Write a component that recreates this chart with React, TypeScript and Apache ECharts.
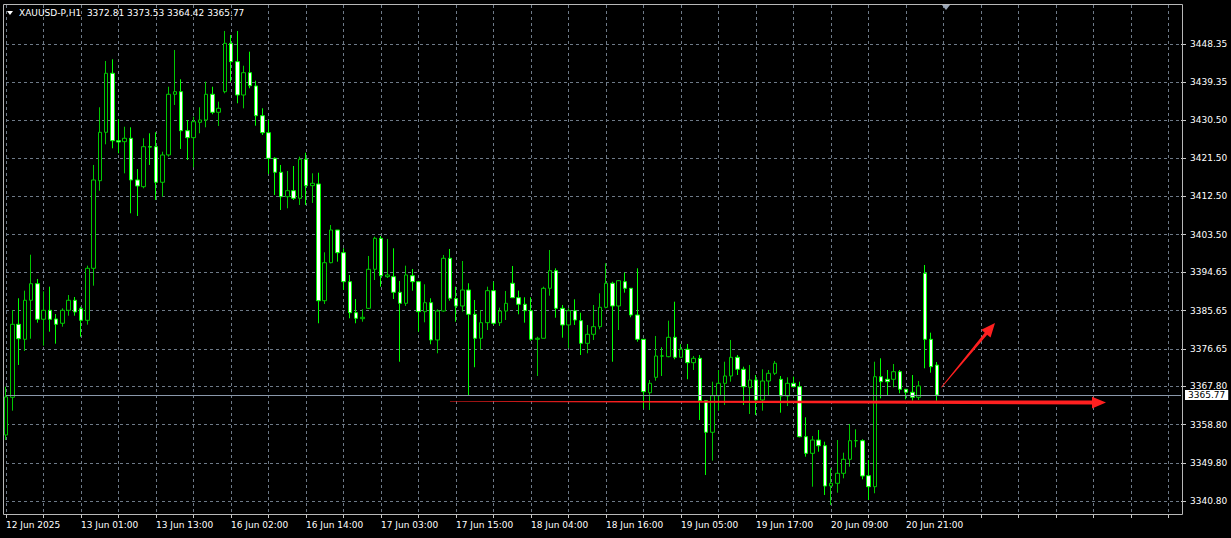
import React, { useEffect, useRef } from 'react';
import * as echarts from 'echarts';

const SYMBOL = 'XAUUSD-P,H1';

const openPrices = [
  3356.37, 3365.24, 3382.41, 3378.88, 3388.06, 3391.96, 3383.59, 3385.70, 3383.66, 3382.65,
  3385.70, 3388.06, 3386.08, 3383.35, 3395.58, 3416.19, 3427.58, 3441.46, 3425.60, 3425.37,
  3426.17, 3416.36, 3414.78, 3424.19, 3424.19, 3415.82, 3422.24, 3436.52, 3437.13, 3427.95,
  3426.31, 3429.93, 3430.47, 3436.52, 3432.28, 3437.13, 3448.51, 3444.19, 3436.35, 3441.60,
  3438.47, 3431.48, 3427.48, 3421.46, 3418.17, 3412.43, 3413.84, 3412.05, 3421.23, 3415.02,
  3415.42, 3387.96, 3396.90, 3404.59, 3399.25, 3392.43, 3385.14, 3383.73, 3386.17, 3395.35,
  3402.64, 3393.61, 3393.61, 3389.94, 3387.35, 3393.84, 3392.43, 3385.38, 3387.49, 3378.72,
  3385.54, 3397.94, 3388.45, 3386.72, 3390.48, 3384.76, 3379.12, 3382.79, 3390.32, 3382.79,
  3385.54, 3392.06, 3388.67, 3387.12, 3385.61, 3378.88, 3379.12, 3390.88, 3395.02, 3386.17,
  3382.25, 3385.61, 3383.26, 3377.94, 3380.06, 3381.85, 3386.41, 3392.06, 3386.72, 3392.43,
  3390.88, 3384.60, 3378.88, 3366.32, 3369.94, 3374.95, 3374.79, 3379.35, 3374.65, 3376.53,
  3373.38, 3374.41, 3364.44, 3357.01, 3365.62, 3368.53, 3370.25, 3374.65, 3371.83, 3367.59,
  3369.31, 3364.60, 3369.07, 3370.88, 3369.47, 3365.54, 3368.53, 3367.73, 3355.97, 3352.06,
  3355.19, 3353.85, 3344.37, 3345.01, 3347.36, 3350.65, 3355.03, 3355.03, 3346.80, 3344.21,
  3370.08, 3369.47, 3369.47, 3371.26, 3367.12, 3366.42, 3365.24, 3394.41, 3378.88, 3372.81,
];
const highPrices = [
  3367.73, 3385.78, 3388.53, 3390.32, 3398.78, 3393.07, 3390.17, 3391.26, 3384.83, 3386.17,
  3389.30, 3388.83, 3386.55, 3396.20, 3419.89, 3433.46, 3444.35, 3444.75, 3430.64, 3428.89,
  3428.75, 3418.94, 3426.17, 3427.34, 3427.58, 3423.01, 3438.30, 3446.94, 3440.05, 3430.47,
  3431.25, 3433.46, 3439.48, 3438.30, 3434.78, 3451.41, 3450.47, 3451.41, 3443.24, 3446.54,
  3439.72, 3433.22, 3430.47, 3421.70, 3419.89, 3418.47, 3419.65, 3421.84, 3422.78, 3417.93,
  3418.07, 3399.35, 3405.77, 3404.59, 3400.29, 3394.01, 3388.36, 3385.94, 3398.48, 3403.02,
  3403.18, 3402.48, 3400.29, 3392.60, 3396.20, 3395.42, 3392.43, 3391.82, 3388.53, 3385.94,
  3398.71, 3400.13, 3391.26, 3397.30, 3392.06, 3388.13, 3385.78, 3391.26, 3392.43, 3386.32,
  3390.25, 3396.13, 3390.32, 3388.76, 3388.76, 3379.49, 3391.26, 3399.89, 3395.58, 3386.95,
  3386.17, 3388.29, 3385.14, 3382.25, 3386.95, 3389.70, 3396.76, 3392.43, 3392.83, 3394.55,
  3390.88, 3395.58, 3378.88, 3369.31, 3379.66, 3377.00, 3383.26, 3387.73, 3377.78, 3377.78,
  3374.95, 3375.19, 3364.60, 3368.91, 3371.66, 3373.61, 3378.72, 3375.19, 3372.44, 3372.84,
  3370.48, 3371.83, 3371.66, 3373.78, 3370.25, 3369.94, 3370.09, 3368.91, 3360.53, 3356.14,
  3357.55, 3354.79, 3348.54, 3355.19, 3352.21, 3358.96, 3357.71, 3355.36, 3350.49, 3373.61,
  3374.41, 3371.66, 3373.07, 3371.66, 3367.12, 3370.48, 3369.07, 3396.36, 3380.44, 3373.53,
];
const lowPrices = [
  3355.19, 3362.09, 3372.84, 3376.13, 3379.02, 3382.79, 3377.38, 3380.67, 3377.85, 3381.85,
  3384.43, 3384.43, 3379.49, 3382.32, 3391.49, 3413.84, 3424.75, 3423.81, 3422.64, 3417.93,
  3408.52, 3407.89, 3414.40, 3419.89, 3411.65, 3412.43, 3421.84, 3434.00, 3423.65, 3421.06,
  3419.34, 3427.34, 3428.75, 3431.81, 3429.06, 3436.75, 3439.48, 3434.40, 3433.22, 3437.93,
  3429.13, 3426.94, 3417.77, 3412.83, 3409.30, 3409.70, 3411.65, 3410.48, 3410.48, 3410.95,
  3382.65, 3387.19, 3396.76, 3397.14, 3390.48, 3383.82, 3382.65, 3383.02, 3386.01, 3392.83,
  3391.26, 3393.30, 3388.36, 3373.61, 3386.72, 3390.32, 3380.67, 3382.88, 3377.71, 3375.59,
  3385.38, 3387.96, 3383.02, 3385.38, 3365.78, 3372.30, 3376.53, 3381.07, 3382.25, 3382.01,
  3383.42, 3388.67, 3384.76, 3382.79, 3378.55, 3370.25, 3379.12, 3389.14, 3383.96, 3379.26,
  3376.77, 3382.25, 3375.19, 3375.59, 3378.72, 3381.23, 3386.17, 3373.61, 3381.07, 3389.85,
  3384.06, 3378.32, 3362.65, 3362.25, 3369.14, 3370.25, 3374.65, 3374.18, 3374.65, 3369.47,
  3371.66, 3359.90, 3346.96, 3350.33, 3362.09, 3363.43, 3368.91, 3370.48, 3363.43, 3361.31,
  3361.08, 3362.09, 3365.78, 3370.48, 3361.62, 3363.19, 3367.59, 3355.83, 3351.27, 3344.21,
  3352.44, 3342.26, 3339.90, 3342.80, 3346.18, 3348.91, 3353.48, 3345.95, 3341.08, 3342.66,
  3365.00, 3365.62, 3367.59, 3366.18, 3364.77, 3364.44, 3364.60, 3372.06, 3371.03, 3364.42,
];
const closePrices = [
  3365.31, 3382.41, 3379.02, 3388.06, 3391.96, 3383.59, 3385.70, 3383.59, 3382.41, 3385.70,
  3388.06, 3385.31, 3383.35, 3395.58, 3416.36, 3427.58, 3441.46, 3425.60, 3425.30, 3426.17,
  3416.36, 3414.95, 3424.19, 3424.10, 3415.82, 3422.24, 3436.52, 3437.13, 3427.95, 3426.31,
  3430.07, 3430.47, 3436.52, 3432.28, 3433.22, 3448.51, 3444.19, 3436.35, 3441.60, 3438.54,
  3431.48, 3427.48, 3421.46, 3418.17, 3412.43, 3413.84, 3412.05, 3421.23, 3415.02, 3415.58,
  3387.96, 3396.90, 3404.59, 3399.25, 3392.43, 3385.14, 3383.82, 3384.06, 3395.35, 3402.64,
  3393.84, 3394.01, 3389.94, 3387.35, 3394.01, 3392.43, 3385.38, 3387.49, 3378.72, 3385.54,
  3397.94, 3388.53, 3386.72, 3390.48, 3384.76, 3379.12, 3382.79, 3390.32, 3382.65, 3385.54,
  3387.35, 3388.67, 3387.12, 3385.61, 3378.88, 3379.12, 3390.88, 3395.02, 3386.17, 3382.25,
  3385.61, 3383.42, 3377.94, 3380.06, 3381.85, 3386.41, 3392.06, 3386.72, 3392.67, 3390.88,
  3384.60, 3378.88, 3366.56, 3368.53, 3374.95, 3374.95, 3379.35, 3374.65, 3376.53, 3373.38,
  3374.41, 3364.44, 3357.01, 3365.62, 3368.53, 3370.25, 3374.65, 3371.83, 3367.73, 3369.31,
  3364.60, 3369.07, 3370.88, 3373.24, 3365.54, 3368.53, 3367.73, 3355.97, 3352.06, 3355.19,
  3353.85, 3344.37, 3345.01, 3347.36, 3350.65, 3355.03, 3355.03, 3346.73, 3344.21, 3370.08,
  3368.91, 3368.91, 3371.26, 3367.12, 3366.42, 3365.24, 3367.90, 3378.88, 3372.44, 3365.77,
];

const timeLabels = [
  '12 Jun 2025', '13 Jun 01:00', '13 Jun 13:00', '16 Jun 02:00', '16 Jun 14:00', '17 Jun 03:00',
  '17 Jun 15:00', '18 Jun 04:00', '18 Jun 16:00', '19 Jun 05:00', '19 Jun 17:00', '20 Jun 09:00',
  '20 Jun 21:00',
];
const timeLabelBars = [0, 12, 24, 36, 48, 60, 72, 84, 96, 108, 120, 132, 144];
const priceTicks = [
  3448.35, 3439.35, 3430.5, 3421.5, 3412.5, 3403.5, 3394.65, 3385.65, 3376.65, 3367.8, 3358.8,
  3349.8, 3340.8,
];
const lastPrice = 3365.77;
const totalSlots = 189;
const yMin = 3337.55;
const yMax = 3457.52;

const FONT = 'DejaVu Sans';
const GRID_COLOR = '#6e7a88';

export default function App() {
  const ref = useRef<HTMLDivElement>(null);

  useEffect(() => {
    const chart = echarts.init(ref.current as HTMLDivElement, null, { renderer: 'svg' });
    const categories = Array.from({ length: totalSlots }, (_, i) => String(i));
    const labelMap: Record<string, string> = {};
    timeLabelBars.forEach((b, k) => {
      labelMap[String(b)] = timeLabels[k];
    });
    const labelSet = new Set(timeLabelBars);
    const candles = openPrices.map((o, i) => [o, closePrices[i], lowPrices[i], highPrices[i]]);
    const n = openPrices.length - 1;
    const header = `${SYMBOL}  ${openPrices[n].toFixed(2)} ${highPrices[n].toFixed(2)} ${lowPrices[n].toFixed(2)} ${closePrices[n].toFixed(2)}`;

    chart.setOption({
      animation: false,
      backgroundColor: '#000000',
      grid: { left: 6, top: 5, width: 1175, height: 510 },
      xAxis: {
        type: 'category',
        data: categories,
        boundaryGap: false,
        axisLine: { show: false },
        axisTick: {
          show: true,
          interval: 5,
          length: 3,
          lineStyle: { color: '#c8c8c8' },
        },
        axisLabel: {
          show: true,
          interval: (index: number) => labelSet.has(index),
          formatter: (v: string) => labelMap[v] ?? '',
          align: 'left',
          margin: 5,
          color: '#ffffff',
          fontFamily: FONT,
          fontSize: 9,
        },
        splitLine: {
          show: true,
          interval: 5,
          lineStyle: { color: GRID_COLOR, type: [3, 3], width: 1 },
        },
      },
      yAxis: {
        type: 'value',
        position: 'right',
        min: yMin,
        max: yMax,
        scale: true,
        axisLine: { show: false },
        axisTick: {
          show: true,
          customValues: priceTicks,
          length: 5,
          lineStyle: { color: '#c8c8c8' },
        },
        axisLabel: {
          show: true,
          customValues: priceTicks,
          formatter: (v: number) => v.toFixed(2),
          color: '#ffffff',
          fontFamily: FONT,
          fontSize: 9,
          margin: 9,
        },
        splitLine: {
          show: true,
          lineStyle: { color: GRID_COLOR, type: [3, 3], width: 1 },
        },
      },
      series: [
        {
          type: 'candlestick',
          data: candles,
          barWidth: 4,
          clip: false,
          itemStyle: {
            color: '#000000',
            color0: '#ffffff',
            borderColor: '#00c800',
            borderColor0: '#00ff00',
            borderColorDoji: '#00e000',
            borderWidth: 1,
          },
          markLine: {
            silent: true,
            symbol: 'none',
            animation: false,
            lineStyle: { color: '#8a98aa', width: 1, type: 'solid' },
            label: {
              show: true,
              position: 'end',
              formatter: lastPrice.toFixed(2),
              backgroundColor: '#ffffff',
              color: '#000000',
              padding: [1, 3, 0, 3],
              fontFamily: FONT,
              fontSize: 9,
              distance: 4,
            },
            data: [{ yAxis: lastPrice }],
          },
        },
      ],
      graphic: [
        {
          type: 'rect',
          silent: true,
          z: 20,
          shape: { x: 3.5, y: 4.5, width: 1179, height: 510 },
          style: { fill: 'none', stroke: '#b8b8b8', lineWidth: 1 },
        },
        {
          type: 'polygon',
          silent: true,
          z: 20,
          shape: { points: [[7, 11], [13, 11], [10, 15]] },
          style: { fill: '#ffffff' },
        },
        {
          type: 'text',
          silent: true,
          z: 20,
          x: 19,
          y: 13,
          style: {
            text: header,
            fill: '#ffffff',
            font: `9px "${FONT}"`,
            textVerticalAlign: 'middle',
          },
        },
        {
          type: 'polygon',
          silent: true,
          z: 20,
          shape: { points: [[942, 5], [950, 5], [946, 10]] },
          style: { fill: '#9aa6b6' },
        },
        {
          type: 'polygon',
          silent: true,
          z: 30,
          shape: {
            points: [
              [450, 401.2], [1092, 400.5], [1092, 396.8], [1106, 402.6], [1092, 408.4],
              [1092, 404.6], [450, 401.7],
            ],
          },
          style: { fill: '#ff2020' },
        },
        {
          type: 'polygon',
          silent: true,
          z: 30,
          shape: {
            points: [
              [941.19, 387.04], [984.75, 332.68], [981.38, 329.84], [995, 323],
              [990.56, 337.58], [987.19, 334.74], [941.81, 387.56],
            ],
          },
          style: { fill: '#ff2020' },
        },
      ],
    });

    return () => {
      chart.dispose();
    };
  }, []);

  return (
    <div
      ref={ref}
      style={{ position: 'fixed', left: 0, top: 0, width: 1231, height: 538 }}
    />
  );
}
